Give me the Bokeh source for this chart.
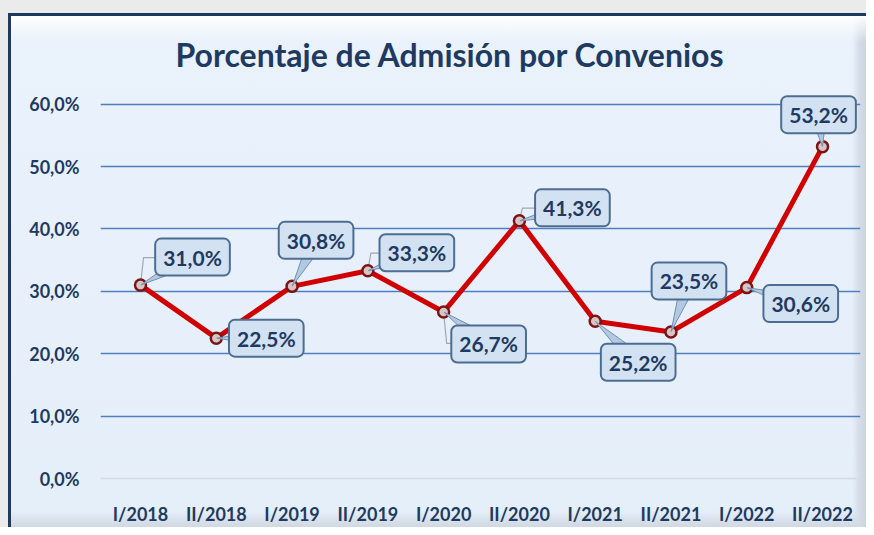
import math
from bokeh.plotting import figure
from bokeh.models import Range1d, FixedTicker, Label, ColumnDataSource
from bokeh.embed import file_html
from bokeh.resources import INLINE

# ---- data ----
periods = ["I/2018", "II/2018", "I/2019", "II/2019", "I/2020",
           "II/2020", "I/2021", "II/2021", "I/2022", "II/2022"]
values = [31.0, 22.5, 30.8, 33.3, 26.7, 41.3, 25.2, 23.5, 30.6, 53.2]
value_labels = ["31,0%", "22,5%", "30,8%", "33,3%", "26,7%",
                "41,3%", "25,2%", "23,5%", "30,6%", "53,2%"]
y_ticks = [0, 10, 20, 30, 40, 50, 60]
y_tick_labels = ["0,0%", "10,0%", "20,0%", "30,0%", "40,0%", "50,0%", "60,0%"]
title_text = "Porcentaje de Admisión por Convenios"

# ---- callout placement (screen px offsets from the point; y up) ----
label_dx = [52, 50, 24, 49, 45, 53, 43, 18, 54, -4]
label_dy = [28, 0, 46, 18, -32, 13, -41, 51, -16, 32]
leader = [True, False, False, True, True, True, False, False, False, False]

W, H = 866, 527
BL, BR, BT, BB = 100, 6, 88, 42
X0, X1 = -0.528, 9.501
Y0 = 0
sy = (485 - 104) / 60.0
Y1 = 60 + 16 / sy
sx = (W - BL - BR) / (X1 - X0)

NAVY = "#1f3a60"
FONT = "Lato"

p = figure(width=W, height=H, output_backend="svg", toolbar_location=None,
           x_range=Range1d(X0, X1), y_range=Range1d(Y0, Y1),
           min_border_left=BL, min_border_right=BR, min_border_top=BT, min_border_bottom=BB)
p.background_fill_alpha = 0
p.border_fill_alpha = 0
p.outline_line_color = None

# panel look (gray page strip, navy frame edge, bevel) painted behind the transparent canvas
p.styles = {
    "background": ", ".join([
        "linear-gradient(to bottom, #ebebeb 0px, #ebebeb 13px, rgba(0,0,0,0) 13px)",
        "linear-gradient(to right, #ebebeb 0px, #ebebeb 8px, rgba(0,0,0,0) 8px)",
        "linear-gradient(to bottom, rgba(0,0,0,0) 13px, #1f3a60 13px, #1f3a60 16px, rgba(0,0,0,0) 16px)",
        "linear-gradient(to right, rgba(0,0,0,0) 8px, #1f3a60 8px, #1f3a60 11px, rgba(0,0,0,0) 11px)",
        "linear-gradient(to bottom, rgba(0,0,0,0) 16px, rgba(255,255,255,0.95) 16px, rgba(255,255,255,0) 42px)",
        "linear-gradient(to left, #cdd6e0 0px, #d3dce6 6px, rgba(225,235,245,0) 14px)",
        "linear-gradient(to top, #d0d9e3 0px, #d6dfe8 5px, rgba(225,235,245,0) 16px)",
        "linear-gradient(to bottom, #eaf2fc, #e5eff9)",
    ])
}

# axes
xs = list(range(len(periods)))
p.xaxis.ticker = FixedTicker(ticks=xs)
p.xaxis.major_label_overrides = {i: s for i, s in zip(xs, periods)}
p.yaxis.ticker = FixedTicker(ticks=y_ticks)
p.yaxis.major_label_overrides = {t: s for t, s in zip(y_ticks, y_tick_labels)}
for ax in (p.xaxis, p.yaxis):
    ax.major_tick_line_color = None
    ax.minor_tick_line_color = None
    ax.major_label_text_font = FONT
    ax.major_label_text_font_style = "bold"
    ax.major_label_text_font_size = "18px"
    ax.major_label_text_color = NAVY
p.yaxis.axis_line_color = None
p.yaxis.major_label_standoff = 15
p.xaxis.major_label_standoff = 18
p.xaxis.axis_line_color = "#d4dbe3"
p.xaxis.axis_line_width = 1.5
p.xgrid.grid_line_color = None
p.ygrid.ticker = FixedTicker(ticks=y_ticks[1:])
p.ygrid.grid_line_color = "#4f7fbf"
p.ygrid.grid_line_width = 1.5

# title
p.title.text = title_text
p.title.align = "left"
p.title.offset = 75
p.title.text_font = FONT
p.title.text_font_style = "bold"
p.title.text_font_size = "32px"
p.title.text_color = NAVY
p.title.standoff = 30

# line + markers
src = ColumnDataSource(dict(x=xs, y=values))
p.line("x", "y", source=src, line_color="#d00000", line_width=5)

# leader lines (thin gray elbows toward the box edge)
lx, ly = [], []
for i, v in enumerate(values):
    if leader[i]:
        cy = v + label_dy[i] / sy
        lx.append([i, i + 3 / sx, i + (label_dx[i] - 30) / sx])
        ly.append([v, cy, cy])
p.multi_line(lx, ly, line_color="#a0a8b0", line_width=1.2)

p.scatter("x", "y", source=src, size=11, fill_color="#d8c4c4", line_color="#7a1515", line_width=2.5)

# callout tails
tx, ty = [], []
for i, v in enumerate(values):
    cx = i + label_dx[i] / sx
    cy = v + label_dy[i] / sy
    ddx, ddy = label_dx[i], label_dy[i]
    n = math.hypot(ddx, ddy) or 1
    px, py = -ddy / n * 8, ddx / n * 8
    tx.append([i + 0.5 * ddx / n / sx, cx + px / sx, cx - px / sx])
    ty.append([v + 0.5 * ddy / n / sy, cy + py / sy, cy - py / sy])
p.patches(tx, ty, fill_color="#b3c9e3", line_color="#6f8fb0", line_width=1)

# callout boxes
pad = dict(left=8, right=8, top=6, bottom=6)
for i, v in enumerate(values):
    p.add_layout(Label(x=i, y=v, x_offset=label_dx[i] + 2, y_offset=label_dy[i] - 3, text=value_labels[i],
                       text_font=FONT, text_font_style="bold", text_font_size="21px",
                       text_alpha=0, text_align="center", text_baseline="middle",
                       background_fill_color="#2f3d4d", background_fill_alpha=0.4,
                       border_radius=6, padding=pad))
    p.add_layout(Label(x=i, y=v, x_offset=label_dx[i], y_offset=label_dy[i], text=value_labels[i],
                       text_font=FONT, text_font_style="bold", text_font_size="21px",
                       text_color=NAVY, text_align="center", text_baseline="middle",
                       background_fill_color="#d3e2f3", border_line_color="#4d6d90",
                       border_line_width=2, border_radius=6, padding=pad))

open("out.html", "w").write(file_html(p, INLINE))
